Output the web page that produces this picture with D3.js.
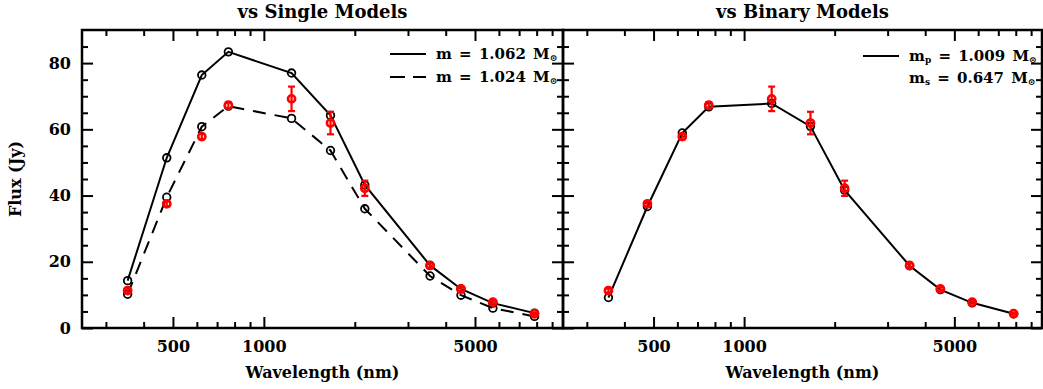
<!DOCTYPE html>
<html>
<head>
<meta charset="utf-8">
<script src="https://cdn.jsdelivr.net/npm/d3@7"></script>
<style>
  body { margin: 0; background: #fff; }
  svg text { font-family: "DejaVu Serif", serif; font-weight: bold; fill: #000; }
</style>
</head>
<body>
<div id="chart"></div>
<script>
// photometric bands (nm): SDSS ugri, 2MASS JHKs, IRAC 3.6-8.0
var wavelengths = [354, 477, 623, 763, 1235, 1662, 2159, 3550, 4493, 5731, 7872];
var observedFlux = [11.3, 37.5, 57.8, 67.3, 69.2, 61.9, 42.2, 18.9, 11.8, 7.8, 4.3];
var observedErr = [0.6, 0.7, 0.8, 0.9, 3.7, 3.4, 2.3, 0.6, 0.5, 0.4, 0.3];
var singleHeavy = [14.3, 51.4, 76.4, 83.4, 77.0, 64.2, 43.2, 18.9, 11.8, 7.5, 4.5];   // m = 1.062
var singleLight = [10.2, 39.5, 60.8, 67.0, 63.3, 53.6, 36.0, 15.7, 9.9, 6.0, 3.5];    // m = 1.024
var binaryFit = [9.2, 36.7, 58.9, 66.8, 67.8, 60.9, 41.6, 18.8, 11.6, 7.6, 4.3];      // mp = 1.009, ms = 0.647

var xMajorTicks = [500, 1000, 5000];
var xMinorTicks = [300, 400, 600, 700, 800, 900, 2000, 3000, 4000, 6000, 7000, 8000, 9000];
var yMajorTicks = [0, 20, 40, 60, 80];
var yMinorTicks = [5, 10, 15, 25, 30, 35, 45, 50, 55, 65, 70, 75, 85];
var panelTitles = ["vs Single Models", "vs Binary Models"];

var width = 1043, height = 389;
var plotTop = 30, plotBottom = 328;
var panels = [
  {left: 82, right: 563, title: panelTitles[0], yLabels: true,
   models: [{values: singleHeavy, dash: null}, {values: singleLight, dash: "13,9"}]},
  {left: 563, right: 1042, title: panelTitles[1], yLabels: false,
   models: [{values: binaryFit, dash: null}]}
];

var svg = d3.select("#chart")
    .append("svg")
    .attr("width", width)
    .attr("height", height);

var y = d3.scaleLinear()
    .domain([0, 90])
    .range([plotBottom, plotTop]);

panels.forEach(function(p) {
  var x = d3.scaleLog()
      .domain([250, 9780])
      .range([p.left, p.right]);

  var g = svg.append("g");

  // ticks, all pointing inward
  function addAxis(axis, transform, labels) {
    var a = g.append("g")
        .attr("transform", transform)
        .call(axis);
    a.select(".domain").remove();
    a.selectAll("line").attr("stroke", "#000").attr("stroke-width", 2);
    if (!labels) a.selectAll("text").remove();
    else a.selectAll("text").style("font-size", "16px");
    return a;
  }

  addAxis(d3.axisBottom(x).tickValues(xMajorTicks).tickSize(-11).tickSizeOuter(0).tickPadding(13)
      .tickFormat(d3.format("d")), "translate(0," + plotBottom + ")", true);
  addAxis(d3.axisBottom(x).tickValues(xMinorTicks).tickSize(-6).tickSizeOuter(0), "translate(0," + plotBottom + ")", false);
  addAxis(d3.axisTop(x).tickValues(xMajorTicks).tickSize(-11).tickSizeOuter(0), "translate(0," + plotTop + ")", false);
  addAxis(d3.axisTop(x).tickValues(xMinorTicks).tickSize(-6).tickSizeOuter(0), "translate(0," + plotTop + ")", false);

  addAxis(d3.axisLeft(y).tickValues(yMajorTicks).tickSize(-11).tickSizeOuter(0).tickPadding(11),
      "translate(" + p.left + ",0)", p.yLabels);
  addAxis(d3.axisLeft(y).tickValues(yMinorTicks).tickSize(-6).tickSizeOuter(0), "translate(" + p.left + ",0)", false);
  addAxis(d3.axisRight(y).tickValues(yMajorTicks).tickSize(-11).tickSizeOuter(0), "translate(" + p.right + ",0)", false);
  addAxis(d3.axisRight(y).tickValues(yMinorTicks).tickSize(-6).tickSizeOuter(0), "translate(" + p.right + ",0)", false);

  g.append("rect")
      .attr("x", p.left)
      .attr("y", plotTop)
      .attr("width", p.right - p.left)
      .attr("height", plotBottom - plotTop)
      .attr("fill", "none")
      .attr("stroke", "#000")
      .attr("stroke-width", 2.5);

  // model curves
  var line = d3.line()
      .x(function(d) { return x(d.w); })
      .y(function(d) { return y(d.f); });

  p.models.forEach(function(m) {
    var pts = wavelengths.map(function(w, i) { return {w: w, f: m.values[i]}; });
    g.append("path")
        .datum(pts)
        .attr("d", line)
        .attr("fill", "none")
        .attr("stroke", "#000")
        .attr("stroke-width", 2)
        .attr("stroke-dasharray", m.dash);
    g.selectAll(null)
        .data(pts)
        .enter().append("circle")
        .attr("cx", function(d) { return x(d.w); })
        .attr("cy", function(d) { return y(d.f); })
        .attr("r", 3.8)
        .attr("fill", "none")
        .attr("stroke", "#000")
        .attr("stroke-width", 1.8);
  });

  // observed fluxes with error bars
  var obs = wavelengths.map(function(w, i) { return {w: w, f: observedFlux[i], e: observedErr[i]}; });
  var og = g.selectAll(null)
      .data(obs)
      .enter().append("g")
      .attr("stroke", "#f00")
      .attr("stroke-width", 2.2)
      .attr("fill", "none");
  og.append("line")
      .attr("x1", function(d) { return x(d.w); })
      .attr("x2", function(d) { return x(d.w); })
      .attr("y1", function(d) { return y(d.f - d.e); })
      .attr("y2", function(d) { return y(d.f + d.e); });
  og.append("line")
      .attr("x1", function(d) { return x(d.w) - 3.5; })
      .attr("x2", function(d) { return x(d.w) + 3.5; })
      .attr("y1", function(d) { return y(d.f - d.e); })
      .attr("y2", function(d) { return y(d.f - d.e); });
  og.append("line")
      .attr("x1", function(d) { return x(d.w) - 3.5; })
      .attr("x2", function(d) { return x(d.w) + 3.5; })
      .attr("y1", function(d) { return y(d.f + d.e); })
      .attr("y2", function(d) { return y(d.f + d.e); });
  og.append("circle")
      .attr("cx", function(d) { return x(d.w); })
      .attr("cy", function(d) { return y(d.f); })
      .attr("r", 3.6)
      .attr("stroke-width", 2.6);

  // titles
  g.append("text")
      .attr("x", (p.left + p.right) / 2)
      .attr("y", 18)
      .attr("text-anchor", "middle")
      .style("font-size", "18px")
      .text(p.title);

  g.append("text")
      .attr("x", (p.left + p.right) / 2)
      .attr("y", 378)
      .attr("text-anchor", "middle")
      .style("font-size", "16px")
      .text("Wavelength (nm)");
});

svg.append("text")
    .attr("transform", "translate(21,179) rotate(-90)")
    .attr("text-anchor", "middle")
    .style("font-size", "16px")
    .text("Flux (Jy)");

// legends
function legendEntry(x0, yy, dash, parts) {
  if (dash !== undefined) {
    svg.append("line")
        .attr("x1", x0).attr("x2", x0 + 36)
        .attr("y1", yy).attr("y2", yy)
        .attr("stroke", "#000")
        .attr("stroke-width", 2)
        .attr("stroke-dasharray", dash);
  }
  var t = svg.append("text")
      .attr("x", x0 + 46)
      .attr("y", yy + 5)
      .style("font-size", "15px")
      .style("word-spacing", "2px");
  parts.forEach(function(pt) {
    var s = t.append("tspan").text(pt.text);
    if (pt.sub) s.attr("baseline-shift", "-25%").style("font-size", "9px");
  });
}

legendEntry(390, 54, null, [{text: "m = 1.062 M"}, {text: "\u2299", sub: true}]);
legendEntry(390, 77, "15,8", [{text: "m = 1.024 M"}, {text: "\u2299", sub: true}]);
legendEntry(863, 56, null, [{text: "m"}, {text: "p", sub: true}, {text: " = 1.009 M"}, {text: "\u2299", sub: true}]);
legendEntry(863, 78, undefined, [{text: "m"}, {text: "s", sub: true}, {text: " = 0.647 M"}, {text: "\u2299", sub: true}]);
</script>
</body>
</html>
